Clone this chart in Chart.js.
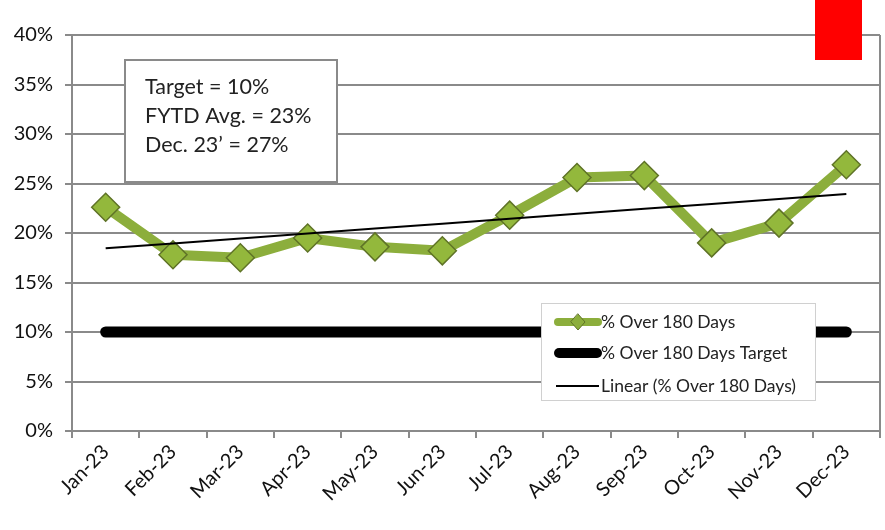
<!DOCTYPE html>
<html>
<head>
    <title>% Over 180 Days</title>
    <script src="https://cdn.jsdelivr.net/npm/chart.js"></script>
    <style>
        html, body {
            margin: 0;
            padding: 0;
            background: #fff;
        }
        #wrap {
            width: 885px;
            height: 530px;
        }
    </style>
</head>
<body>
    <div id="wrap"><canvas id="c" width="885" height="530"></canvas></div>
    <script>
        // data
        const months = ['Jan-23', 'Feb-23', 'Mar-23', 'Apr-23', 'May-23', 'Jun-23',
                        'Jul-23', 'Aug-23', 'Sep-23', 'Oct-23', 'Nov-23', 'Dec-23'];
        const pctOver180 = [22.6, 17.8, 17.5, 19.5, 18.6, 18.2, 21.8, 25.6, 25.8, 19.0, 21.0, 26.9];
        const targetPct = [10, 10, 10, 10, 10, 10, 10, 10, 10, 10, 10, 10];
        const yTicks = [0, 5, 10, 15, 20, 25, 30, 35, 40];
        const noteLines = ['Target = 10%', 'FYTD Avg. = 23%', 'Dec. 23\u2019 = 27%'];
        const legendLabels = ['% Over 180 Days', '% Over 180 Days Target', 'Linear (% Over 180 Days)'];

        // linear trendline (least squares, like Excel)
        const n = pctOver180.length;
        const xm = (n + 1) / 2;
        const ym = pctOver180.reduce((a, b) => a + b, 0) / n;
        let sxy = 0, sxx = 0;
        pctOver180.forEach((v, i) => { sxy += (i + 1 - xm) * (v - ym); sxx += (i + 1 - xm) ** 2; });
        const slope = sxy / sxx;
        const trend = pctOver180.map((v, i) => ym + slope * (i + 1 - xm));

        const FONT = 'Lato, "Open Sans", sans-serif';
        const GREEN = '#8cae3c';
        const GRID = '#8a8a8a';

        const overlay = {
            id: 'overlay',
            afterDraw(chart) {
                const c = chart.ctx;
                const a = chart.chartArea;
                c.save();
                // right border of plot
                c.strokeStyle = GRID;
                c.lineWidth = 2;
                c.beginPath();
                c.moveTo(a.right, a.top);
                c.lineTo(a.right, a.bottom);
                c.stroke();

                // note box
                c.fillStyle = '#fff';
                c.fillRect(125, 60, 212, 122);
                c.strokeStyle = GRID;
                c.lineWidth = 2;
                c.strokeRect(125, 60, 212, 122);
                c.fillStyle = '#222';
                c.font = '21.5px ' + FONT;
                c.textBaseline = 'middle';
                noteLines.forEach((t, i) => c.fillText(t, 145, 87 + i * 29));

                // legend box
                c.fillStyle = '#fff';
                c.fillRect(541, 303, 274, 97);
                c.strokeStyle = '#d0d0d0';
                c.lineWidth = 1;
                c.strokeRect(541.5, 303.5, 274, 97);
                const rows = [322, 353, 386];
                // green sample
                c.lineCap = 'round';
                c.strokeStyle = GREEN;
                c.lineWidth = 8;
                c.beginPath(); c.moveTo(558, rows[0]); c.lineTo(598, rows[0]); c.stroke();
                c.fillStyle = GREEN;
                c.strokeStyle = '#5f7327';
                c.lineWidth = 1;
                c.beginPath();
                c.moveTo(578, rows[0] - 8); c.lineTo(585, rows[0]); c.lineTo(578, rows[0] + 8); c.lineTo(571, rows[0]);
                c.closePath(); c.fill(); c.stroke();
                // target sample
                c.strokeStyle = '#000';
                c.lineWidth = 10;
                c.beginPath(); c.moveTo(559, rows[1]); c.lineTo(597, rows[1]); c.stroke();
                // trend sample
                c.lineCap = 'butt';
                c.lineWidth = 2;
                c.beginPath(); c.moveTo(556, rows[2]); c.lineTo(599, rows[2]); c.stroke();
                c.fillStyle = '#222';
                c.font = '17.5px ' + FONT;
                legendLabels.forEach((t, i) => c.fillText(t, 601, rows[i]));

                // red marker top right
                c.fillStyle = '#ff0000';
                c.fillRect(815, 0, 47, 60);
                c.restore();
            }
        };

        new Chart(document.getElementById('c'), {
            type: 'line',
            data: {
                labels: months,
                datasets: [{
                    label: legendLabels[2],
                    data: trend,
                    borderColor: '#000',
                    borderWidth: 2,
                    pointRadius: 0,
                    order: 0
                }, {
                    label: legendLabels[0],
                    data: pctOver180,
                    borderColor: GREEN,
                    borderWidth: 10,
                    borderJoinStyle: 'round',
                    pointStyle: 'rectRot',
                    pointRadius: 14,
                    pointBackgroundColor: '#93b83c',
                    pointBorderColor: '#5f7327',
                    pointBorderWidth: 1.5,
                    order: 1
                }, {
                    label: legendLabels[1],
                    data: targetPct,
                    borderColor: '#000',
                    borderWidth: 11,
                    borderCapStyle: 'round',
                    pointRadius: 0,
                    order: 2
                }]
            },
            options: {
                responsive: false,
                animation: false,
                layout: { autoPadding: false, padding: { top: 35, right: 5, left: 0, bottom: 0 } },
                plugins: {
                    legend: { display: false },
                    tooltip: { enabled: false }
                },
                scales: {
                    x: {
                        offset: true,
                        afterFit: s => { s.height = 99; s.paddingRight = 0; s.paddingLeft = 0; },
                        grid: { offset: true, drawOnChartArea: false, tickLength: 7, color: GRID, lineWidth: 2 },
                        border: { color: GRID, width: 2 },
                        ticks: {
                            color: '#111',
                            font: { family: FONT, size: 20 },
                            minRotation: 45,
                            maxRotation: 45,
                            autoSkip: false,
                            padding: 2
                        }
                    },
                    y: {
                        min: 0,
                        max: 40,
                        afterFit: s => { s.width = 72; },
                        afterBuildTicks: s => { s.ticks = yTicks.map(v => ({ value: v })); },
                        grid: { color: GRID, lineWidth: 2, tickLength: 7 },
                        border: { color: GRID, width: 2 },
                        ticks: {
                            color: '#111',
                            font: { family: FONT, size: 20 },
                            padding: 12,
                            callback: v => v + '%'
                        }
                    }
                }
            },
            plugins: [overlay]
        });
    </script>
</body>
</html>
